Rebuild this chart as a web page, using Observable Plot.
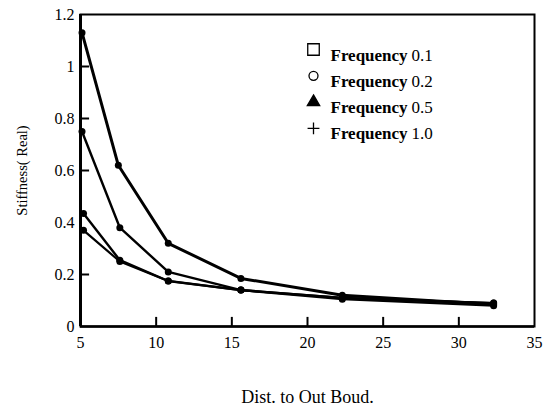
<!DOCTYPE html>
<html>
<head>
<meta charset="utf-8">
<script src="https://cdn.jsdelivr.net/npm/d3@7"></script>
<script src="https://cdn.jsdelivr.net/npm/@observablehq/plot@0.6"></script>
<style>
  html, body { margin: 0; padding: 0; background: #fff; }
  #chart svg { display: block; }
</style>
</head>
<body>
<div id="chart"></div>
<script>
const seriesNames = ["Frequency 0.1", "Frequency 0.2", "Frequency 0.5", "Frequency 1.0"];
const symbols = ["square", "circle", "triangle", "plus"];
const xFreq01 = [5.1, 7.5, 10.8, 15.6, 22.3, 32.3];
const yFreq01 = [1.13, 0.62, 0.32, 0.185, 0.12, 0.085];
const xFreq02 = [5.1, 7.6, 10.8, 15.6, 22.3, 32.3];
const yFreq02 = [0.75, 0.38, 0.21, 0.14, 0.11, 0.09];
const xFreq05 = [5.2, 7.6, 10.8, 15.6, 22.3, 32.3];
const yFreq05 = [0.435, 0.255, 0.175, 0.14, 0.11, 0.09];
const xFreq10 = [5.2, 7.6, 10.8, 15.6, 22.3, 32.3];
const yFreq10 = [0.37, 0.25, 0.175, 0.14, 0.105, 0.08];
const xTicks = [5, 10, 15, 20, 25, 30, 35];
const yTicks = [0, 0.2, 0.4, 0.6, 0.8, 1, 1.2];
const xInnerTicks = [10, 15, 20, 25, 30];
const yInnerTicks = [0.2, 0.6, 0.8, 1];

const xs = [xFreq01, xFreq02, xFreq05, xFreq10];
const ys = [yFreq01, yFreq02, yFreq05, yFreq10];
const widths = [3, 2.4, 2.4, 2.2];
const data = [];
seriesNames.forEach((s, i) => xs[i].forEach((x, j) => data.push({series: s, x, y: ys[i][j]})));

const font = "'Liberation Serif', 'DejaVu Serif', serif";
const symbolSizes = [6.5, 4.5, 4.6, 3.9];

const legendMarks = seriesNames.flatMap((s, i) => {
  const [word, num] = s.split(" ");
  const dy = 35 + 26.3 * i;
  return [
    Plot.dot([s], {frameAnchor: "top-left", dx: 233, dy, symbol: () => symbols[i], r: symbolSizes[i],
      fill: symbols[i] === "triangle" ? "#000" : "none", stroke: "#000", strokeWidth: 1.3}),
    Plot.text([word], {frameAnchor: "top-left", dx: 250, dy: dy - 1, text: d => d, textAnchor: "start",
      fontSize: 17, fontWeight: "bold", fill: "#000"}),
    Plot.text([num], {frameAnchor: "top-left", dx: 331, dy: dy - 1, text: d => d, textAnchor: "start",
      fontSize: 17, fill: "#000"})
  ];
});

const plot = Plot.plot({
  width: 543,
  height: 409,
  marginLeft: 80,
  marginRight: 9,
  marginTop: 14,
  marginBottom: 83,
  style: {fontFamily: font, fontSize: "15px", color: "#000", background: "#fff"},
  x: {domain: [5, 35], ticks: xTicks, label: null},
  y: {domain: [0, 1.2], ticks: yTicks, label: null},
  symbol: {type: "identity"},
  marks: [
    Plot.frame({stroke: "#000", strokeWidth: 2}),
    Plot.ruleX([5], {stroke: "#000", strokeWidth: 3}),
    Plot.ruleY([0], {stroke: "#000", strokeWidth: 2.5}),
    Plot.ruleX(xInnerTicks, {y1: 0, y2: 0.035, stroke: "#000", strokeWidth: 2}),
    Plot.ruleY(yInnerTicks, {x1: 5, x2: 5.6, stroke: "#000", strokeWidth: 2}),
    Plot.axisX({ticks: xTicks, tickSize: 0, tickPadding: 10, fontSize: 16, tickFormat: d => String(d), label: null}),
    Plot.axisX({ticks: [], tickSize: 0, label: "Dist. to Out Boud.", labelAnchor: "center", labelOffset: 76, labelArrow: "none", fontSize: 18}),
    Plot.axisY({ticks: yTicks, tickSize: 0, tickPadding: 6, fontSize: 16, tickFormat: d => String(d), label: null}),
    Plot.axisY({ticks: [], tickSize: 0, label: "Stiffness( Real)", labelAnchor: "center", labelOffset: 64, labelArrow: "none", fontSize: 14.5}),
    ...seriesNames.map((s, i) => Plot.line(data.filter(d => d.series === s), {x: "x", y: "y", stroke: "#000", strokeWidth: widths[i], strokeLinejoin: "round"})),
    Plot.dot(data, {x: "x", y: "y", r: 3.5, fill: "#000"}),
    ...legendMarks
  ]
});
document.getElementById("chart").appendChild(plot);
</script>
</body>
</html>
